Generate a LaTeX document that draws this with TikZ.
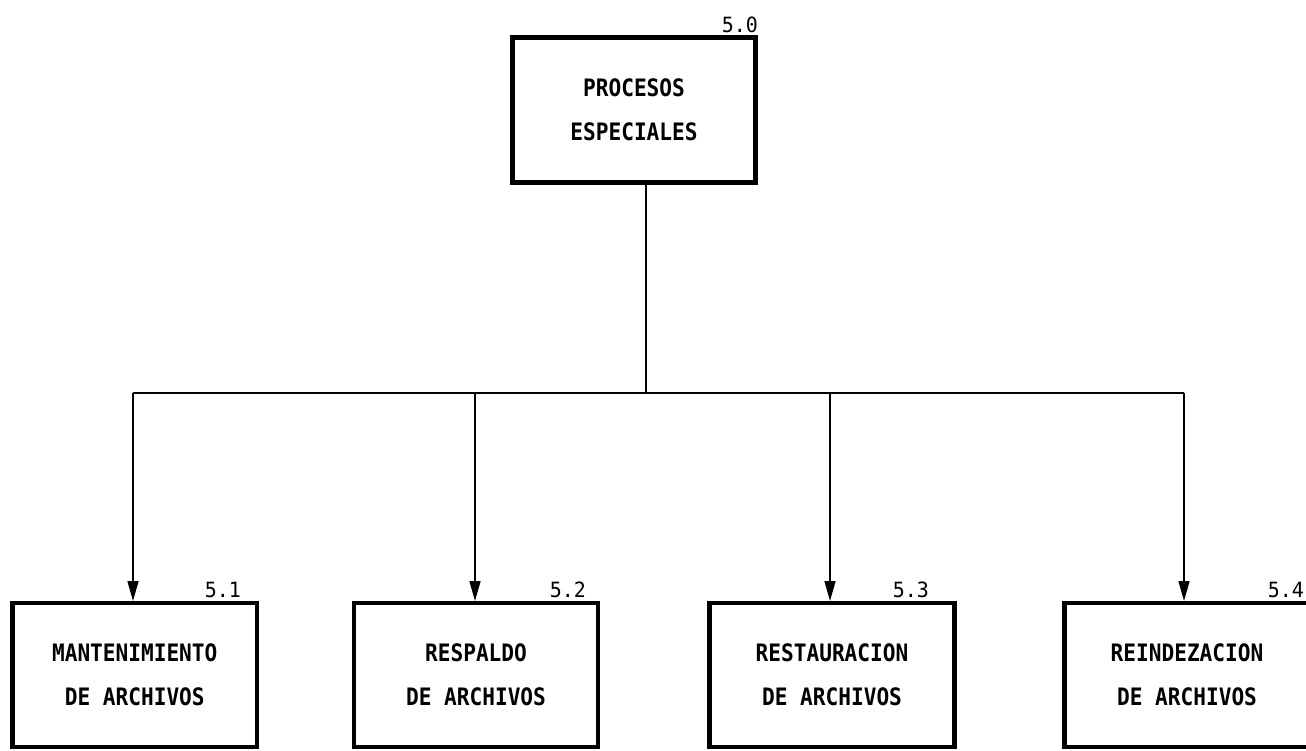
\documentclass[tikz,border=0pt]{standalone}
\usepackage{fontspec}
\newfontfamily\boxfont[FakeStretch=0.88]{DejaVu Sans Mono}
\newfontfamily\numfont[FakeStretch=0.95]{DejaVu Sans Mono}
\usetikzlibrary{arrows.meta}
\tikzset{
  procbox/.style={draw=black, line width=4.2pt, minimum width=243pt, minimum height=145pt,
    inner sep=0pt, align=center, font=\boxfont\bfseries\fontsize{24}{44}\selectfont},
  numlabel/.style={anchor=base east, inner sep=0pt, font=\numfont\fontsize{21}{22}\selectfont},
  conn/.style={draw=black, line width=1.5pt},
  arr/.style={conn, -{Triangle[length=20pt,width=11pt]}}
}
\begin{document}
\begin{tikzpicture}[x=1pt,y=-1pt]
\clip (0,0) rectangle (1306,750);
\fill[white] (0,0) rectangle (1306,750);
% top box
\node[procbox] (p0) at (634,110) {PROCESOS\\ESPECIALES};
\node[numlabel] (l0) at (758,32) {5.0};
% bottom boxes
\node[procbox, minimum width=244.5pt, minimum height=144pt] (p1) at (134.75,675) {MANTENIMIENTO\\DE ARCHIVOS};
\node[procbox, minimum width=244pt, minimum height=144pt] (p2) at (476,675) {RESPALDO\\DE ARCHIVOS};
\node[procbox, minimum width=245pt, minimum height=144pt] (p3) at (832,675) {RESTAURACION\\DE ARCHIVOS};
\node[procbox, minimum width=245pt, minimum height=144pt] (p4) at (1187,675) {REINDEZACION\\DE ARCHIVOS};
\node[numlabel] (l1) at (241,597) {5.1};
\node[numlabel] (l2) at (586,597) {5.2};
\node[numlabel] (l3) at (929,597) {5.3};
\node[numlabel] (l4) at (1304,597) {5.4};
% connectors
\coordinate (bus) at (646,393);
\coordinate (t1) at (133,601);
\coordinate (t2) at (475,601);
\coordinate (t3) at (830,601);
\coordinate (t4) at (1184,601);
\draw[conn] (p0.south -| bus) -- (bus);
\draw[conn] (t1 |- bus) -- (t4 |- bus);
\draw[arr] (t1 |- bus) -- (t1);
\draw[arr] (t2 |- bus) -- (t2);
\draw[arr] (t3 |- bus) -- (t3);
\draw[arr] (t4 |- bus) -- (t4);
\end{tikzpicture}
\end{document}
